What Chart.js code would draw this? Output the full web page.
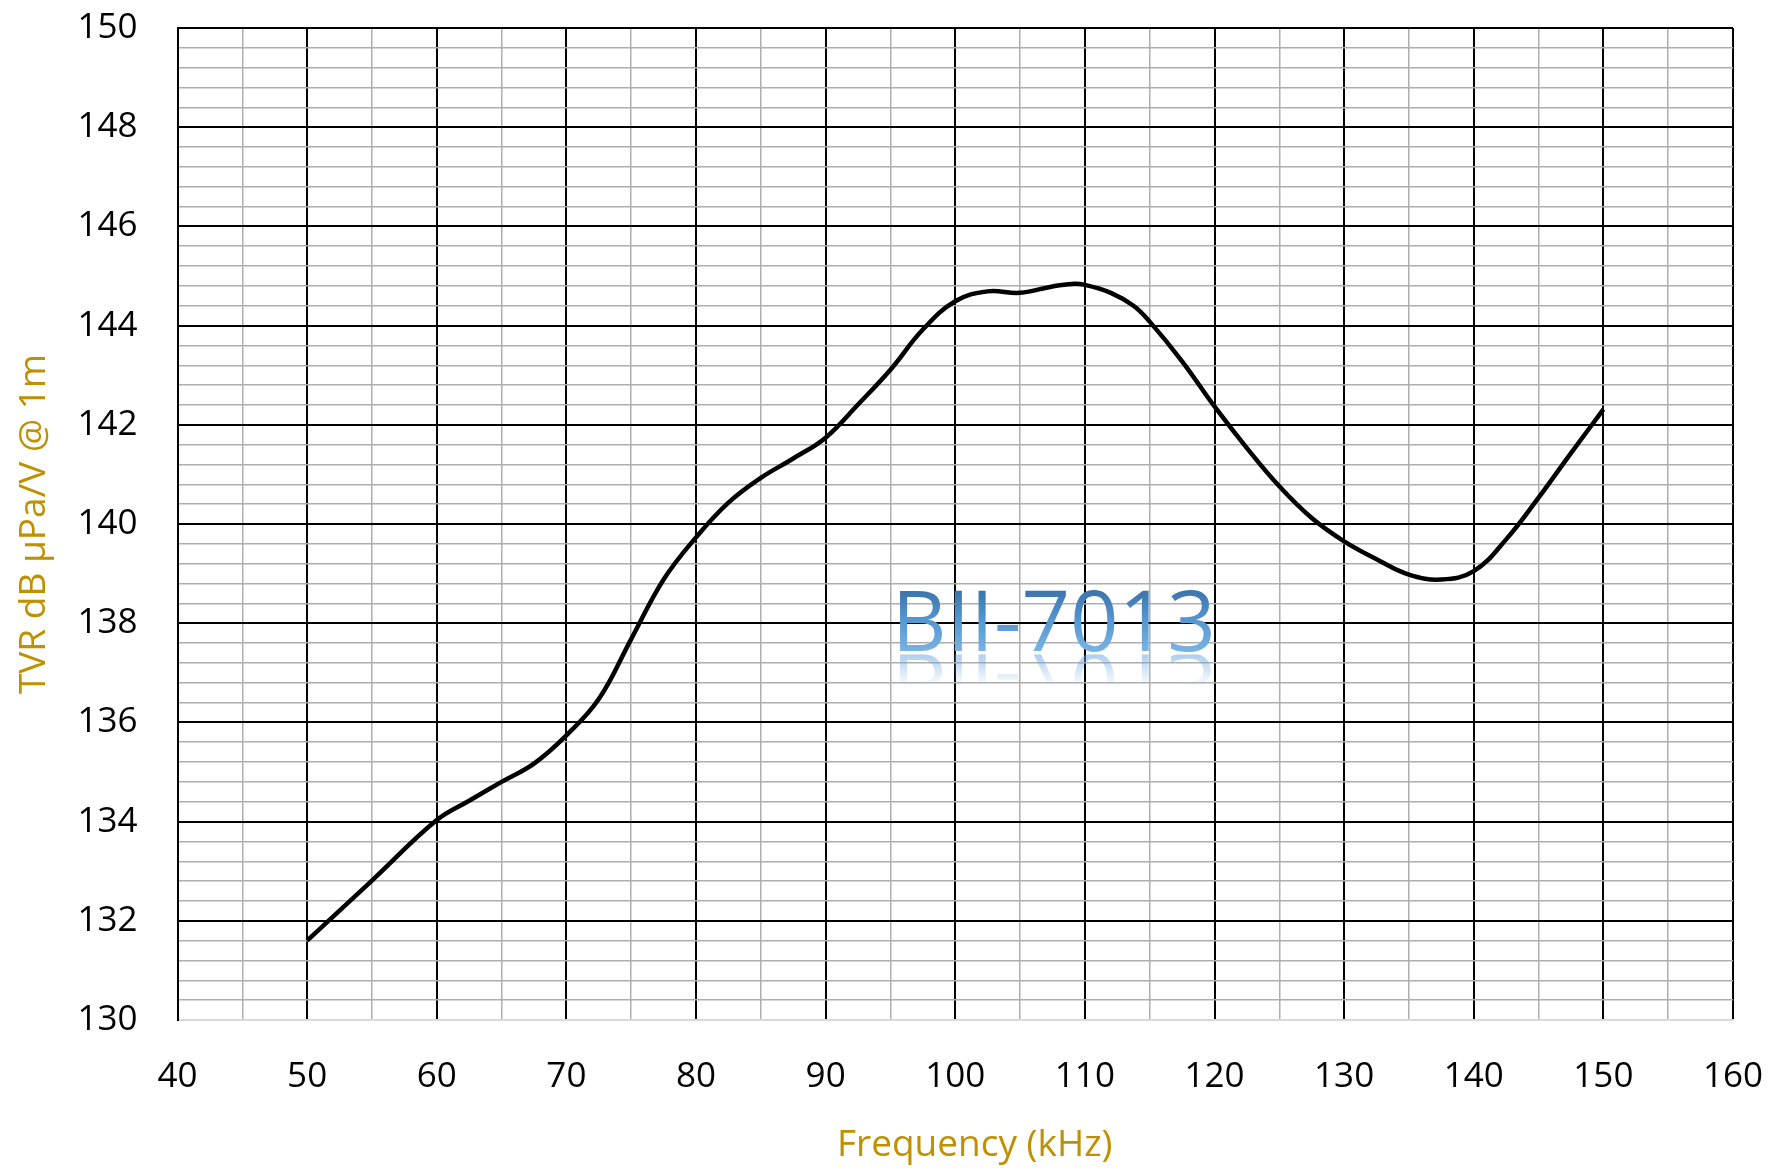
<!DOCTYPE html>
<html>
<head>
<meta charset="utf-8">
<script src="https://cdn.jsdelivr.net/npm/chart.js@4.4.1/dist/chart.umd.min.js"></script>
<style>
  html, body { margin: 0; padding: 0; background: #ffffff; }
  #wrap { width: 1773px; height: 1168px; position: relative; }
</style>
</head>
<body>
<div id="wrap"><canvas id="c"></canvas></div>
<script>
// ---- data ----
const freqKHz = [50, 55, 60, 62.5, 65, 67.5, 70, 72.5, 75, 77.5, 80, 82.5, 85, 87.5, 90, 92.5, 95, 97.5, 100, 102.5, 105, 107.5, 109, 110, 112, 113.75, 115, 117.5, 120, 122.5, 125, 127.5, 130, 132.5, 135, 137.5, 140, 142.5, 145, 147.5, 150];
const tvrDb = [131.60, 132.81, 134.03, 134.42, 134.80, 135.17, 135.74, 136.47, 137.68, 138.88, 139.73, 140.43, 140.93, 141.32, 141.74, 142.41, 143.11, 143.92, 144.49, 144.69, 144.66, 144.79, 144.84, 144.82, 144.66, 144.40, 144.08, 143.28, 142.37, 141.53, 140.76, 140.12, 139.65, 139.29, 138.98, 138.88, 139.05, 139.69, 140.53, 141.43, 142.31];
const xTickLabels = [40, 50, 60, 70, 80, 90, 100, 110, 120, 130, 140, 150, 160];
const yTickLabels = [130, 132, 134, 136, 138, 140, 142, 144, 146, 148, 150];
const xTitle = 'Frequency (kHz)';
const yTitle = 'TVR dB μPa/V @ 1m';
const watermarkText = 'BII-7013';

const GOLD = '#BF9000';
const FONT = "'Open Sans', 'DejaVu Sans', sans-serif";
const isIn = (arr, v) => arr.some(a => Math.abs(a - v) < 1e-6);

const overlayPlugin = {
  id: 'overlay',
  afterDatasetsDraw(chart) {
    const ctx = chart.ctx;
    const xs = chart.scales.x, ys = chart.scales.y;
    // watermark
    const cx = xs.getPixelForValue(107.6);
    const base = ys.getPixelForValue(137.43);
    const size = 85;
    ctx.save();
    ctx.font = `${size}px ${FONT}`;
    ctx.textAlign = 'center';
    ctx.textBaseline = 'alphabetic';
    const capH = size * 0.714;
    const g = ctx.createLinearGradient(0, base - capH, 0, base);
    g.addColorStop(0, '#3D74AC');
    g.addColorStop(0.5, '#5598D2');
    g.addColorStop(1, '#7AB3E2');
    ctx.fillStyle = g;
    ctx.fillText(watermarkText, cx, base);
    ctx.translate(0, base + 3);
    ctx.scale(1, -1);
    const rg = ctx.createLinearGradient(0, 0, 0, -32);
    rg.addColorStop(0, 'rgba(110,165,220,0.55)');
    rg.addColorStop(1, 'rgba(110,165,220,0)');
    ctx.beginPath();
    ctx.rect(cx - 300, -32, 600, 32);
    ctx.clip();
    ctx.fillStyle = rg;
    ctx.fillText(watermarkText, cx, 0);
    ctx.restore();
  },
  afterDraw(chart) {
    // x-axis title (slightly right of centre, as in the original)
    const ctx = chart.ctx;
    const xs = chart.scales.x;
    ctx.save();
    ctx.font = `37px ${FONT}`;
    ctx.fillStyle = GOLD;
    ctx.textAlign = 'center';
    ctx.textBaseline = 'middle';
    ctx.fillText(xTitle, xs.getPixelForValue(101.5), chart.height - 23);
    ctx.restore();
  }
};

new Chart(document.getElementById('c'), {
  type: 'line',
  data: {
    datasets: [{
      data: freqKHz.map((f, i) => ({ x: f, y: tvrDb[i] })),
      borderColor: '#000000',
      borderWidth: 4.5,
      pointRadius: 0,
      fill: false,
      tension: 0.4
    }]
  },
  options: {
    responsive: true,
    maintainAspectRatio: false,
    devicePixelRatio: 1,
    animation: false,
    layout: { padding: { left: 0, right: 40, top: 28, bottom: 0 } },
    plugins: { legend: { display: false }, tooltip: { enabled: false } },
    scales: {
      x: {
        type: 'linear',
        min: 40, max: 160,
        afterFit(s) { s.height = 148; s.paddingLeft = 0; s.paddingRight = 0; },
        ticks: {
          stepSize: 5,
          autoSkip: false,
          maxRotation: 0,
          padding: 36,
          color: '#000000',
          font: { family: FONT, size: 35 },
          callback: v => isIn(xTickLabels, v) ? String(v) : ''
        },
        grid: {
          drawTicks: false,
          color: c => isIn(xTickLabels, c.tick.value) ? '#000000' : '#AEAEAE',
          lineWidth: c => isIn(xTickLabels, c.tick.value) ? 2 : 1.5
        },
        border: { color: '#D9D9D9', width: 2 },
        title: { display: false }
      },
      y: {
        type: 'linear',
        min: 130, max: 150,
        afterFit(s) { s.width = 177.5; s.paddingTop = 0; s.paddingBottom = 0; },
        ticks: {
          stepSize: 0.4,
          autoSkip: false,
          padding: 40,
          color: '#000000',
          font: { family: FONT, size: 35 },
          callback: v => isIn(yTickLabels, v) ? String(Math.round(v)) : ''
        },
        grid: {
          drawTicks: false,
          color: c => Math.abs(c.tick.value - 130) < 1e-6 ? '#D9D9D9' : (isIn(yTickLabels, c.tick.value) ? '#000000' : '#AEAEAE'),
          lineWidth: c => isIn(yTickLabels, c.tick.value) ? 2 : 1.5
        },
        border: { color: '#000000', width: 2 },
        title: {
          display: true,
          text: yTitle,
          color: GOLD,
          font: { family: FONT, size: 37 },
          padding: { top: 12, bottom: 0 }
        }
      }
    }
  },
  plugins: [overlayPlugin]
});
</script>
</body>
</html>
